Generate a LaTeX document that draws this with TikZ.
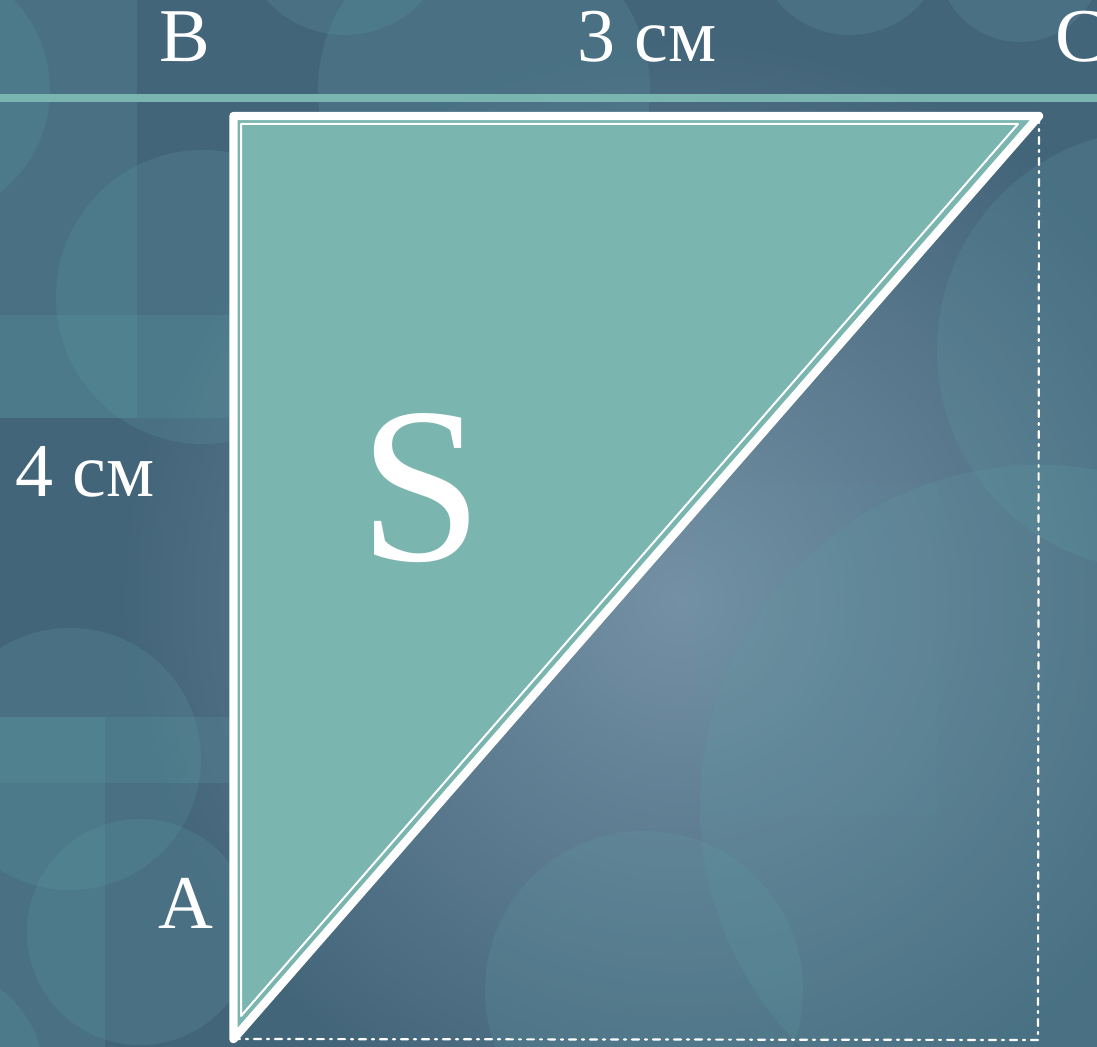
\documentclass[tikz,border=0pt]{standalone}
\usepackage{fontspec}
\setmainfont{Liberation Serif}
\definecolor{bgdark}{HTML}{43657A}
\definecolor{bgglow}{HTML}{7490A4}
\definecolor{spot}{HTML}{5F9CA4}
\definecolor{tealfill}{HTML}{7AB5B0}
\tikzset{
  lbl/.style={text=white,font=\fontsize{38}{40}\selectfont,anchor=base,inner sep=0pt},
  blob/.style={fill=spot,fill opacity=0.22},
  dashdot/.style={white,line width=1.1pt,dash pattern=on 3.5pt off 3pt on 1pt off 3pt}
}
\begin{document}
\begin{tikzpicture}[x=0.5pt,y=-0.5pt,line cap=round,line join=round]
\useasboundingbox (0,0) rectangle (1097,1047);

% фон
\begin{scope}
\clip (0,0) rectangle (1097,1047);
\fill[bgdark] (0,0) rectangle (1097,1047);
\shade[inner color=bgglow,outer color=bgdark] (680,600) circle (560);
\fill[blob] (-80,90) circle (130);
\fill[blob] (0,0) rectangle (137,418);
\fill[blob] (0,315) rectangle (235,418);
\fill[blob] (203,297) circle (147);
\fill[blob] (345,-70) circle (105);
\fill[blob] (484,90) circle (166);
\fill[blob] (850,-60) circle (95);
\fill[blob] (1020,-40) circle (82);
\fill[blob] (1157,350) circle (220);
\fill[blob] (1040,805) circle (340);
\fill[blob,fill opacity=0.08] (700,483) rectangle (937,815);
\fill[blob] (644,990) circle (159);
\fill[blob] (70,759) circle (131);
\fill[blob] (140,932) circle (113);
\fill[blob] (0,717) rectangle (105,1047);
\fill[blob] (0,717) rectangle (235,783);
\fill[blob] (-70,1080) circle (115);
\end{scope}

\draw[tealfill,line width=4pt,line cap=butt] (0,98) -- (1097,98);

\coordinate (B) at (233.5,116);
\coordinate (C) at (1039,116);
\coordinate (A) at (233.5,1039);
\coordinate (D) at (1038,1040);
\coordinate (B1) at (241,124);
\coordinate (C1) at (1018,124);
\coordinate (A1) at (241,1016);

\draw[dashdot] (C) -- (D) -- (A);

\filldraw[fill=tealfill,draw=white,line width=4.2pt] (A) -- (B) -- (C) -- cycle;
\draw[white,line width=1pt] (A1) -- (B1) -- (C1) -- cycle;

\node[lbl] (lB) at (185,62) {B};
\node[lbl] (lBC) at (647,62) {3 см};
\node[lbl,anchor=base west] (lC) at (1055,62) {C};
\node[lbl,anchor=base west] (lAB) at (15,497) {4 см};
\node[lbl] (lA) at (186,928) {A};
\node[lbl,font=\fontsize{111}{115}\selectfont] (lS) at (421,560) {S};
\end{tikzpicture}
\end{document}
